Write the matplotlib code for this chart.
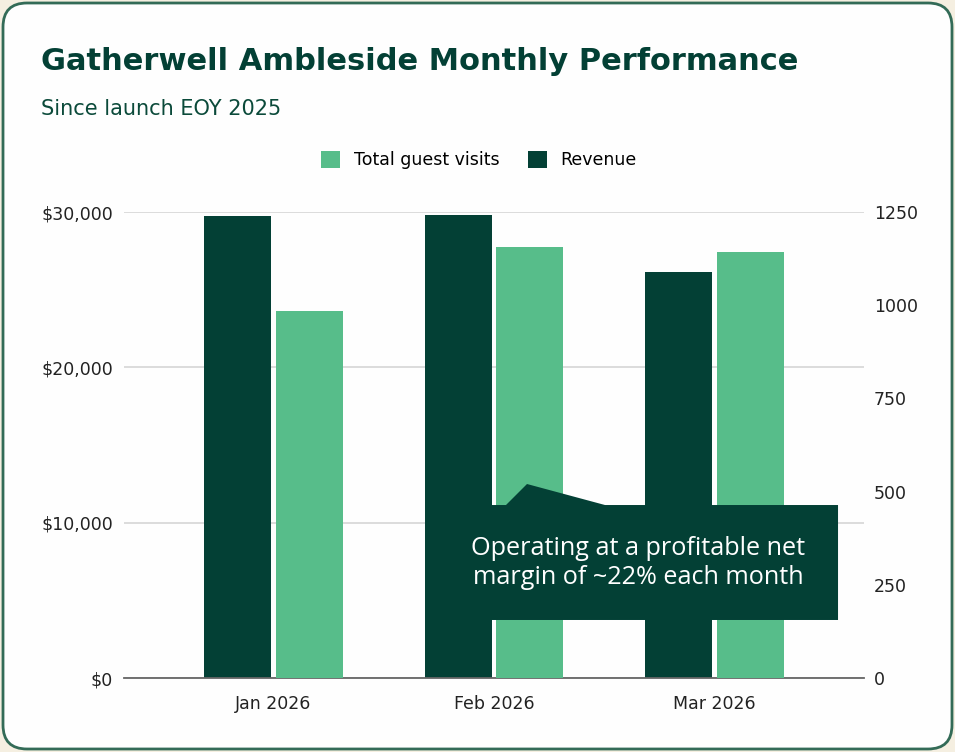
import matplotlib
matplotlib.use("Agg")
import matplotlib.pyplot as plt
from matplotlib.patches import FancyBboxPatch, Polygon, Patch
from matplotlib.ticker import FuncFormatter
import numpy as np

# chart data
months = ["Jan 2026", "Feb 2026", "Mar 2026"]
revenue = [29750, 29800, 26150]
guest_visits = [985, 1155, 1143]

DARK = "#034035"
LIGHT = "#57bd8a"
CREAM = "#f5efe1"
BORDER = "#336b57"

fig = plt.figure(figsize=(9.55, 7.52), dpi=100)
fig.patch.set_facecolor(CREAM)

# rounded white card (behind the axes)
card = FancyBboxPatch((3, 3), 949, 746, boxstyle="round,pad=0,rounding_size=24",
                      transform=None, facecolor="#fefefe", edgecolor=BORDER,
                      linewidth=2, zorder=-5)
fig.patches.append(card)

fig.text(41 / 955, 1 - 62 / 752, "Gatherwell Ambleside Monthly Performance",
         fontsize=22, fontweight="bold", color=DARK, va="center", ha="left")
fig.text(41 / 955, 1 - 109 / 752, "Since launch EOY 2025",
         fontsize=15, color="#0b4a3a", va="center", ha="left")

ax = fig.add_axes([124 / 955, 74 / 752, 740 / 955, 466 / 752])
ax2 = ax.twinx()
ax.patch.set_alpha(0)
ax2.patch.set_alpha(0)

x = np.arange(len(months))
w = 0.304
off = 0.163
ax.bar(x - off, revenue, width=w, color=DARK, zorder=2)
ax2.bar(x + off, guest_visits, width=w, color=LIGHT, zorder=2)

ax.set_xlim(-0.678, 2.678)
ax.set_ylim(0, 30000)
ax2.set_ylim(0, 1250)
ax.set_yticks([0, 10000, 20000, 30000])
ax2.set_yticks([0, 250, 500, 750, 1000, 1250])
ax.yaxis.set_major_formatter(FuncFormatter(lambda v, p: "${:,.0f}".format(v)))
ax.set_xticks(x)
ax.set_xticklabels(months)

ax.grid(axis="y", color="#d6d6d6", linewidth=1.2, zorder=0)
ax.set_axisbelow(True)
for a in (ax, ax2):
    for s in a.spines.values():
        s.set_visible(False)
    a.tick_params(length=0, labelsize=12.5, labelcolor="#222222")
ax.spines["bottom"].set_visible(True)
ax.spines["bottom"].set_color("#666666")
ax.spines["bottom"].set_linewidth(1.3)
ax.spines["bottom"].set_zorder(5)
ax.tick_params(axis="y", pad=8)
ax.tick_params(axis="x", pad=12)
ax2.tick_params(axis="y", pad=7)

# legend
handles = [Patch(facecolor=LIGHT, label="Total guest visits"),
           Patch(facecolor=DARK, label="Revenue")]
fig.legend(handles=handles, loc="center", bbox_to_anchor=(479 / 955, 1 - 160 / 752),
           ncol=2, frameon=False, fontsize=12.5, handlelength=1.1, handleheight=1.1,
           columnspacing=1.6, handletextpad=0.8)

# callout box
callout = Polygon([(0.4243, 0.1245), (0.9649, 0.1245), (0.9649, 0.3712),
                   (0.65, 0.3712), (0.5446, 0.4163), (0.5162, 0.3712),
                   (0.4243, 0.3712)], closed=True, transform=ax2.transAxes,
                  facecolor=DARK, edgecolor="none", zorder=10, clip_on=False)
ax2.add_patch(callout)
ax2.text(0.6946, 0.2468, "Operating at a profitable net\nmargin of ~22% each month",
         transform=ax2.transAxes, ha="center", va="center", color="white",
         fontsize=18.2, family="Open Sans", linespacing=1.2, zorder=11)

fig.savefig("out.png", dpi=100, facecolor=fig.get_facecolor())
